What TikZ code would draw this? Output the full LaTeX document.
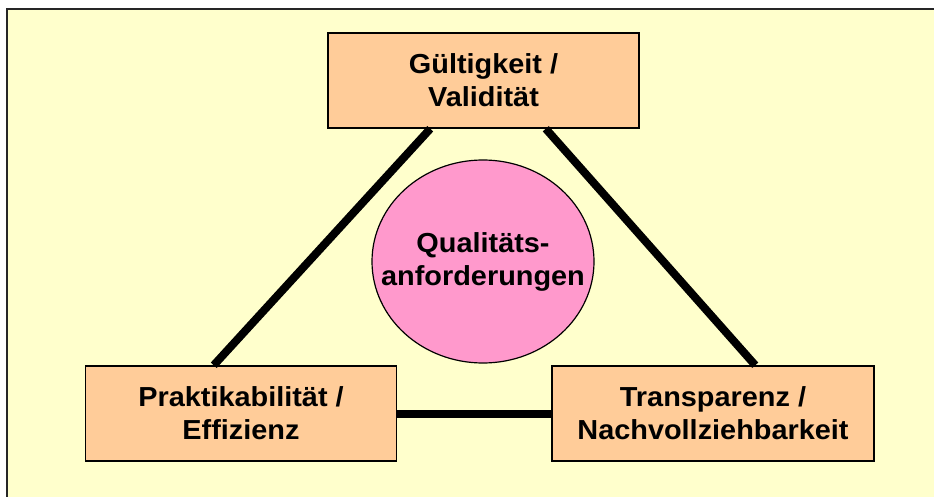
\documentclass[tikz,border=0pt]{standalone}
\usepackage{fontspec}
\setmainfont{Liberation Sans}[FakeStretch=1.05]
\usetikzlibrary{calc,shapes.geometric}
\definecolor{bgyellow}{HTML}{FFFFCC}
\definecolor{boxorange}{HTML}{FFCC99}
\definecolor{circpink}{HTML}{FF99CC}
\newcommand{\zw}[1]{\makebox[0pt]{#1}}
\tikzset{
  lbox/.style={draw=black, line width=1.5pt, fill=boxorange, minimum width=311pt, minimum height=95pt, inner sep=0pt, align=center, font=\fontsize{27.5}{33}\selectfont\bfseries},
  hub/.style={ellipse, draw=black, line width=1.2pt, fill=circpink, minimum width=222pt, minimum height=203pt, inner sep=0pt, align=center, font=\fontsize{27.5}{33}\selectfont\bfseries},
  link/.style={line width=8pt, black},
}
\begin{document}
\begin{tikzpicture}[x=1pt,y=-1pt]
\useasboundingbox (0,0) rectangle (934,497);
\fill[bgyellow] (7,9) rectangle (934,497);
\draw[line width=2pt, black!85] (7,497) -- (7,9) -- (934,9);
\node[lbox] (top) at (483.5,80.5) {Gültigkeit /\\Validität};
\node[lbox] (left) at (241,413.5) {Praktikabilität /\\Effizienz};
\node[lbox, minimum width=322pt] (right) at (713,413.5) {Transparenz /\\Nachvollziehbarkeit};
\node[hub] (hub) at (483,261.5) {\zw{Qualitäts-}\\\zw{anforderungen}};
\draw[link] ($(top.south west)+(103,0)$) -- ($(left.north west)+(129,0)$);
\draw[link] ($(top.south east)+(-94,0)$) -- ($(right.north west)+(204,0)$);
\draw[link] (left.east) -- (right.west);
\end{tikzpicture}
\end{document}
